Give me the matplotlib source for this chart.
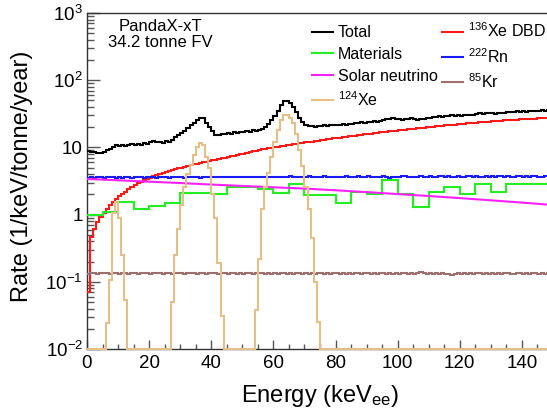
# -*- coding:utf-8 -*-
"""
PandaX-xT background spectrum in the 34.2 tonne fiducial volume
"""

import numpy as np
import matplotlib
matplotlib.use('Agg')
import matplotlib.pyplot as plt
from matplotlib.lines import Line2D
from matplotlib.ticker import MultipleLocator, FixedLocator, LogLocator, NullFormatter

# ---- data (rate in 1/keV/tonne/year) ----
# 1 keV bins, 0-150 keV
total = [8.9, 8.6, 8.5, 8.3, 8.2, 8.6, 9.1, 9.5, 10.2, 10.9,
         10.5, 10.9, 10.5, 10.8, 11.2, 10.9, 11.3, 11.0, 11.6, 11.3,
         11.9, 12.3, 11.9, 12.2, 11.8, 12.5, 12.2, 13.0, 14.5, 15.2,
         16.4, 17.8, 19.5, 21.3, 23.0, 25.4, 27.3, 27.0, 23.3, 19.8,
         17.3, 15.4, 15.2, 15.9, 15.6, 16.4, 16.1, 16.9, 16.5, 17.2,
         16.8, 17.5, 17.1, 17.9, 17.6, 18.3, 19.0, 20.4, 22.6, 25.5,
         29.0, 35.0, 43.0, 48.3, 49.6, 45.5, 40.0, 34.0, 27.0, 23.5,
         21.5, 20.8, 20.6, 20.4, 21.0, 20.6, 21.3, 21.0, 21.7, 21.3,
         21.5, 21.2, 22.0, 21.7, 22.4, 22.6, 23.4, 23.0, 23.8, 23.3,
         24.0, 23.6, 24.4, 24.0, 24.8, 25.8, 26.5, 26.1, 27.0, 26.6,
         26.1, 25.7, 26.5, 26.1, 27.0, 26.4, 26.0, 26.9, 26.4, 27.2,
         27.7, 28.5, 28.1, 28.9, 28.4, 29.7, 29.3, 30.1, 29.7, 30.5,
         29.5, 30.3, 29.9, 30.7, 30.2, 31.4, 32.2, 31.7, 32.6, 32.1,
         32.3, 31.8, 32.7, 32.2, 33.0, 33.3, 34.1, 33.6, 34.5, 34.0,
         34.7, 34.2, 35.0, 34.5, 35.3, 34.8, 35.6, 35.1, 35.8, 35.4]

xe136_dbd = [0.07, 0.47, 0.62, 0.77, 0.92, 1.07, 1.22, 1.38, 1.55, 1.72,
             1.9, 2.05, 2.2, 2.4, 2.6, 2.78, 2.95, 3.1, 3.25, 3.4,
             3.55, 3.7, 3.85, 4.0, 4.15, 4.3, 4.45, 4.6, 4.75, 4.9,
             5.0, 5.15, 5.3, 5.45, 5.6, 5.7, 5.85, 6.0, 6.15, 6.3,
             6.4, 6.55, 6.7, 6.85, 7.0, 7.2, 7.35, 7.5, 7.7, 7.9,
             8.1, 8.3, 8.5, 8.75, 8.95, 9.15, 9.35, 9.55, 9.7, 9.85,
             10.05, 10.25, 10.45, 10.65, 10.85, 11.0, 11.2, 11.4, 11.55, 11.7,
             11.85, 12.0, 12.2, 12.4, 12.6, 12.8, 13.0, 13.2, 13.4, 13.6,
             13.8, 14.0, 14.2, 14.4, 14.6, 14.8, 15.0, 15.2, 15.4, 15.6,
             15.8, 16.0, 16.25, 16.45, 16.7, 16.9, 17.1, 17.35, 17.55, 17.8,
             18.0, 18.2, 18.45, 18.65, 18.9, 19.1, 19.3, 19.55, 19.75, 20.0,
             20.2, 20.4, 20.6, 20.8, 21.0, 21.25, 21.45, 21.65, 21.85, 22.1,
             22.3, 22.5, 22.7, 22.9, 23.1, 23.35, 23.55, 23.75, 23.95, 24.2,
             24.4, 24.6, 24.8, 25.0, 25.2, 25.4, 25.55, 25.75, 25.95, 26.15,
             26.3, 26.45, 26.6, 26.75, 26.9, 27.05, 27.2, 27.35, 27.5, 27.6]

rn222 = [3.52, 3.58, 3.55, 3.62, 3.57, 3.54, 3.60, 3.66, 3.59, 3.56,
         3.61, 3.55, 3.63, 3.58, 3.52, 3.57, 3.64, 3.60, 3.55, 3.59,
         3.62, 3.57, 3.53, 3.60, 3.65, 3.58, 3.54, 3.61, 3.57, 3.63,
         3.59, 3.55, 3.62, 3.58, 3.64, 3.60, 3.56, 3.61, 3.66, 3.59,
         3.63, 3.58, 3.61, 3.67, 3.60, 3.57, 3.64, 3.59, 3.62, 3.66,
         3.60, 3.64, 3.58, 3.62, 3.68, 3.61, 3.59, 3.65, 3.62, 3.60,
         3.66, 3.62, 3.67, 3.61, 3.64, 3.69, 3.63, 3.60, 3.66, 3.62,
         3.65, 3.70, 3.63, 3.67, 3.62, 3.66, 3.71, 3.64, 3.61, 3.67,
         3.63, 3.68, 3.65, 3.70, 3.64, 3.61, 3.67, 3.72, 3.66, 3.63,
         3.69, 3.65, 3.62, 3.68, 3.64, 3.70, 3.66, 3.50, 3.65, 3.68,
         3.64, 3.69, 3.72, 3.66, 3.63, 3.68, 3.65, 3.70, 3.62, 3.66,
         3.71, 3.67, 3.64, 3.69, 3.73, 3.66, 3.70, 3.65, 3.68, 3.72,
         3.67, 3.63, 3.69, 3.71, 3.66, 3.70, 3.64, 3.68, 3.73, 3.67,
         3.70, 3.65, 3.69, 3.72, 3.66, 3.71, 3.68, 3.64, 3.70, 3.73,
         3.67, 3.71, 3.66, 3.69, 3.74, 3.68, 3.65, 3.71, 3.69, 3.72]

kr85 = [0.132, 0.134, 0.133, 0.131, 0.134, 0.133, 0.135, 0.132, 0.133, 0.134,
        0.131, 0.133, 0.135, 0.132, 0.134, 0.133, 0.131, 0.134, 0.136, 0.133,
        0.132, 0.134, 0.133, 0.135, 0.131, 0.133, 0.134, 0.132, 0.135, 0.133,
        0.134, 0.132, 0.133, 0.135, 0.133, 0.131, 0.134, 0.133, 0.132, 0.134,
        0.133, 0.135, 0.132, 0.134, 0.133, 0.131, 0.133, 0.135, 0.132, 0.134,
        0.132, 0.134, 0.133, 0.131, 0.134, 0.133, 0.135, 0.132, 0.133, 0.131,
        0.134, 0.132, 0.133, 0.135, 0.132, 0.134, 0.131, 0.133, 0.134, 0.132,
        0.133, 0.131, 0.134, 0.132, 0.135, 0.133, 0.132, 0.134, 0.131, 0.133,
        0.135, 0.132, 0.133, 0.131, 0.134, 0.132, 0.133, 0.135, 0.132, 0.134,
        0.133, 0.131, 0.134, 0.132, 0.133, 0.135, 0.132, 0.134, 0.131, 0.133,
        0.132, 0.134, 0.133, 0.131, 0.134, 0.132, 0.135, 0.139, 0.133, 0.131,
        0.134, 0.132, 0.133, 0.131, 0.134, 0.132, 0.130, 0.128, 0.131, 0.133,
        0.132, 0.134, 0.131, 0.133, 0.132, 0.134, 0.133, 0.131, 0.134, 0.132,
        0.133, 0.131, 0.134, 0.132, 0.133, 0.135, 0.132, 0.131, 0.134, 0.133,
        0.132, 0.134, 0.131, 0.133, 0.135, 0.132, 0.133, 0.131, 0.134, 0.132]

xe124 = [0, 0, 0, 0, 0, 0, 0.024, 0.106, 1.07, 1.55,
         0.9, 0.25, 0.054, 0, 0, 0, 0, 0, 0, 0,
         0, 0, 0, 0, 0, 0, 0, 0.05, 0.25, 0.62,
         1.38, 2.6, 4.0, 5.5, 7.7, 10.3, 11.5, 11.0, 7.2, 4.9,
         2.0, 0.88, 0.19, 0.031, 0, 0, 0, 0, 0, 0,
         0, 0, 0, 0, 0.038, 0.22, 1.2, 2.6, 4.2, 7.2,
         12.2, 18.4, 25.6, 30.0, 30.5, 27.0, 22.8, 16.1, 9.1, 5.2,
         2.6, 1.2, 0.45, 0.1, 0.025, 0, 0, 0, 0, 0,
         0, 0, 0, 0, 0, 0, 0, 0, 0, 0,
         0, 0, 0, 0, 0, 0, 0, 0, 0, 0,
         0, 0, 0, 0, 0, 0, 0, 0, 0, 0,
         0, 0, 0, 0, 0, 0, 0, 0, 0, 0,
         0, 0, 0, 0, 0, 0, 0, 0, 0, 0,
         0, 0, 0, 0, 0, 0, 0, 0, 0, 0,
         0, 0, 0, 0, 0, 0, 0, 0, 0, 0]

# 5 keV bins, 0-150 keV
materials = [0.99, 1.08, 1.52, 1.21, 1.32, 1.47, 2.07, 2.07, 2.0, 2.61,
             2.61, 2.38, 2.1, 2.83, 1.96, 1.96, 1.5, 2.14, 2.0, 3.3,
             2.0, 1.3, 2.2, 2.61, 2.0, 2.9, 2.2, 2.9, 2.85, 2.9]

# smooth curve, sampled every 10 keV
solar_energy = [0, 10, 20, 30, 40, 50, 60, 70, 80, 90, 100, 110, 120, 130, 140, 150]
solar_nu = [3.39, 3.24, 3.09, 2.95, 2.80, 2.67, 2.55, 2.44, 2.30, 2.16,
            2.02, 1.89, 1.76, 1.63, 1.51, 1.39]

ytick_values = [1e-2, 1e-1, 1, 10, 1e2, 1e3]
ytick_labels = ['$10^{-2}$', '$10^{-1}$', '1', '10', '$10^{2}$', '$10^{3}$']

# ---- style ----
plt.rcParams['font.family'] = ['Liberation Sans', 'DejaVu Sans']
plt.rcParams['mathtext.fontset'] = 'custom'
plt.rcParams['mathtext.rm'] = 'Liberation Sans'
plt.rcParams['mathtext.it'] = 'Liberation Sans:italic'
plt.rcParams['mathtext.bf'] = 'Liberation Sans:bold'
plt.rcParams['mathtext.default'] = 'regular'

c_total = 'black'
c_dbd = '#ff1a1a'
c_mat = '#22ee22'
c_rn = '#1a1aff'
c_solar = '#ff22ff'
c_kr = '#9c6f6f'
c_xe124 = '#e5bf8a'

edges_1kev = np.arange(0, 151, 1)
edges_5kev = np.arange(0, 151, 5)

fig = plt.figure(figsize=(5.47, 4.13), dpi=100)
# axes run to 150 keV, a bit past the right edge of the picture
ax = fig.add_axes([87 / 547, 64 / 413, 466 / 547, 336 / 413])
ax.set_yscale('log')

lw = 1.5
ax.stairs(total, edges_1kev, baseline=None, color=c_total, lw=lw, zorder=4)
ax.stairs(xe136_dbd, edges_1kev, baseline=None, color=c_dbd, lw=lw, zorder=3)
ax.stairs(materials, edges_5kev, baseline=None, color=c_mat, lw=lw, zorder=3)
ax.stairs(rn222, edges_1kev, baseline=None, color=c_rn, lw=lw, zorder=3)
ax.plot(solar_energy, solar_nu, color=c_solar, lw=lw, zorder=3)
ax.stairs(kr85, edges_1kev, baseline=None, color=c_kr, lw=lw, zorder=3)
# empty bins sit on the lower frame
ax.stairs(np.maximum(xe124, 1e-2), edges_1kev, baseline=None, color=c_xe124,
          lw=lw, zorder=5, clip_on=False)

ax.set_xlim(0, 150)
ax.set_ylim(1e-2, 1e3)

# ticks, ROOT style
ax.xaxis.set_major_locator(MultipleLocator(20))
ax.xaxis.set_minor_locator(MultipleLocator(5))
ax.yaxis.set_major_locator(FixedLocator(ytick_values))
ax.set_yticklabels(ytick_labels)
ax.yaxis.set_minor_locator(LogLocator(base=10, subs=range(2, 10)))
ax.yaxis.set_minor_formatter(NullFormatter())
ax.tick_params(which='both', direction='in', top=False, right=False,
               color='#555555', width=1)
ax.tick_params(axis='y', which='major', length=9.5, pad=3, labelsize=13.5)
ax.tick_params(axis='y', which='minor', length=5)
ax.tick_params(axis='x', which='major', length=6.5, pad=4, labelsize=13.5)
ax.tick_params(axis='x', which='minor', length=3.5)
for s in ['left', 'bottom', 'top']:
    ax.spines[s].set_color('#333333')
    ax.spines[s].set_linewidth(1)
ax.spines['right'].set_visible(False)

ax.set_xlabel('Energy (keV$_{ee}$)', fontsize=17)
ax.xaxis.set_label_coords(0.5, -0.1)
ax.set_ylabel('Rate (1/keV/tonne/year)', fontsize=17)
ax.yaxis.set_label_coords(-0.116, 0.515)

ax.text(0.157, 0.946, 'PandaX-xT', transform=ax.transAxes, ha='center',
        va='baseline', fontsize=12)
ax.text(0.157, 0.898, '34.2 tonne FV', transform=ax.transAxes, ha='center',
        va='baseline', fontsize=12)

# legend: matplotlib fills columns first
handles = [Line2D([], [], color=c_total, lw=lw),
           Line2D([], [], color=c_mat, lw=lw),
           Line2D([], [], color=c_solar, lw=lw),
           Line2D([], [], color=c_xe124, lw=lw),
           Line2D([], [], color=c_dbd, lw=lw),
           Line2D([], [], color=c_rn, lw=lw),
           Line2D([], [], color=c_kr, lw=lw)]
labels = ['Total', 'Materials', 'Solar neutrino', '$^{124}$Xe',
          '$^{136}$Xe DBD', '$^{222}$Rn', '$^{85}$Kr']
ax.legend(handles, labels, ncol=2, loc='upper left',
          bbox_to_anchor=(0.483, 0.975), frameon=False, fontsize=11.5,
          handlelength=1.3, handletextpad=0.3, columnspacing=0.3,
          labelspacing=0.42, borderpad=0, borderaxespad=0)

fig.savefig('out.png', dpi=100)
